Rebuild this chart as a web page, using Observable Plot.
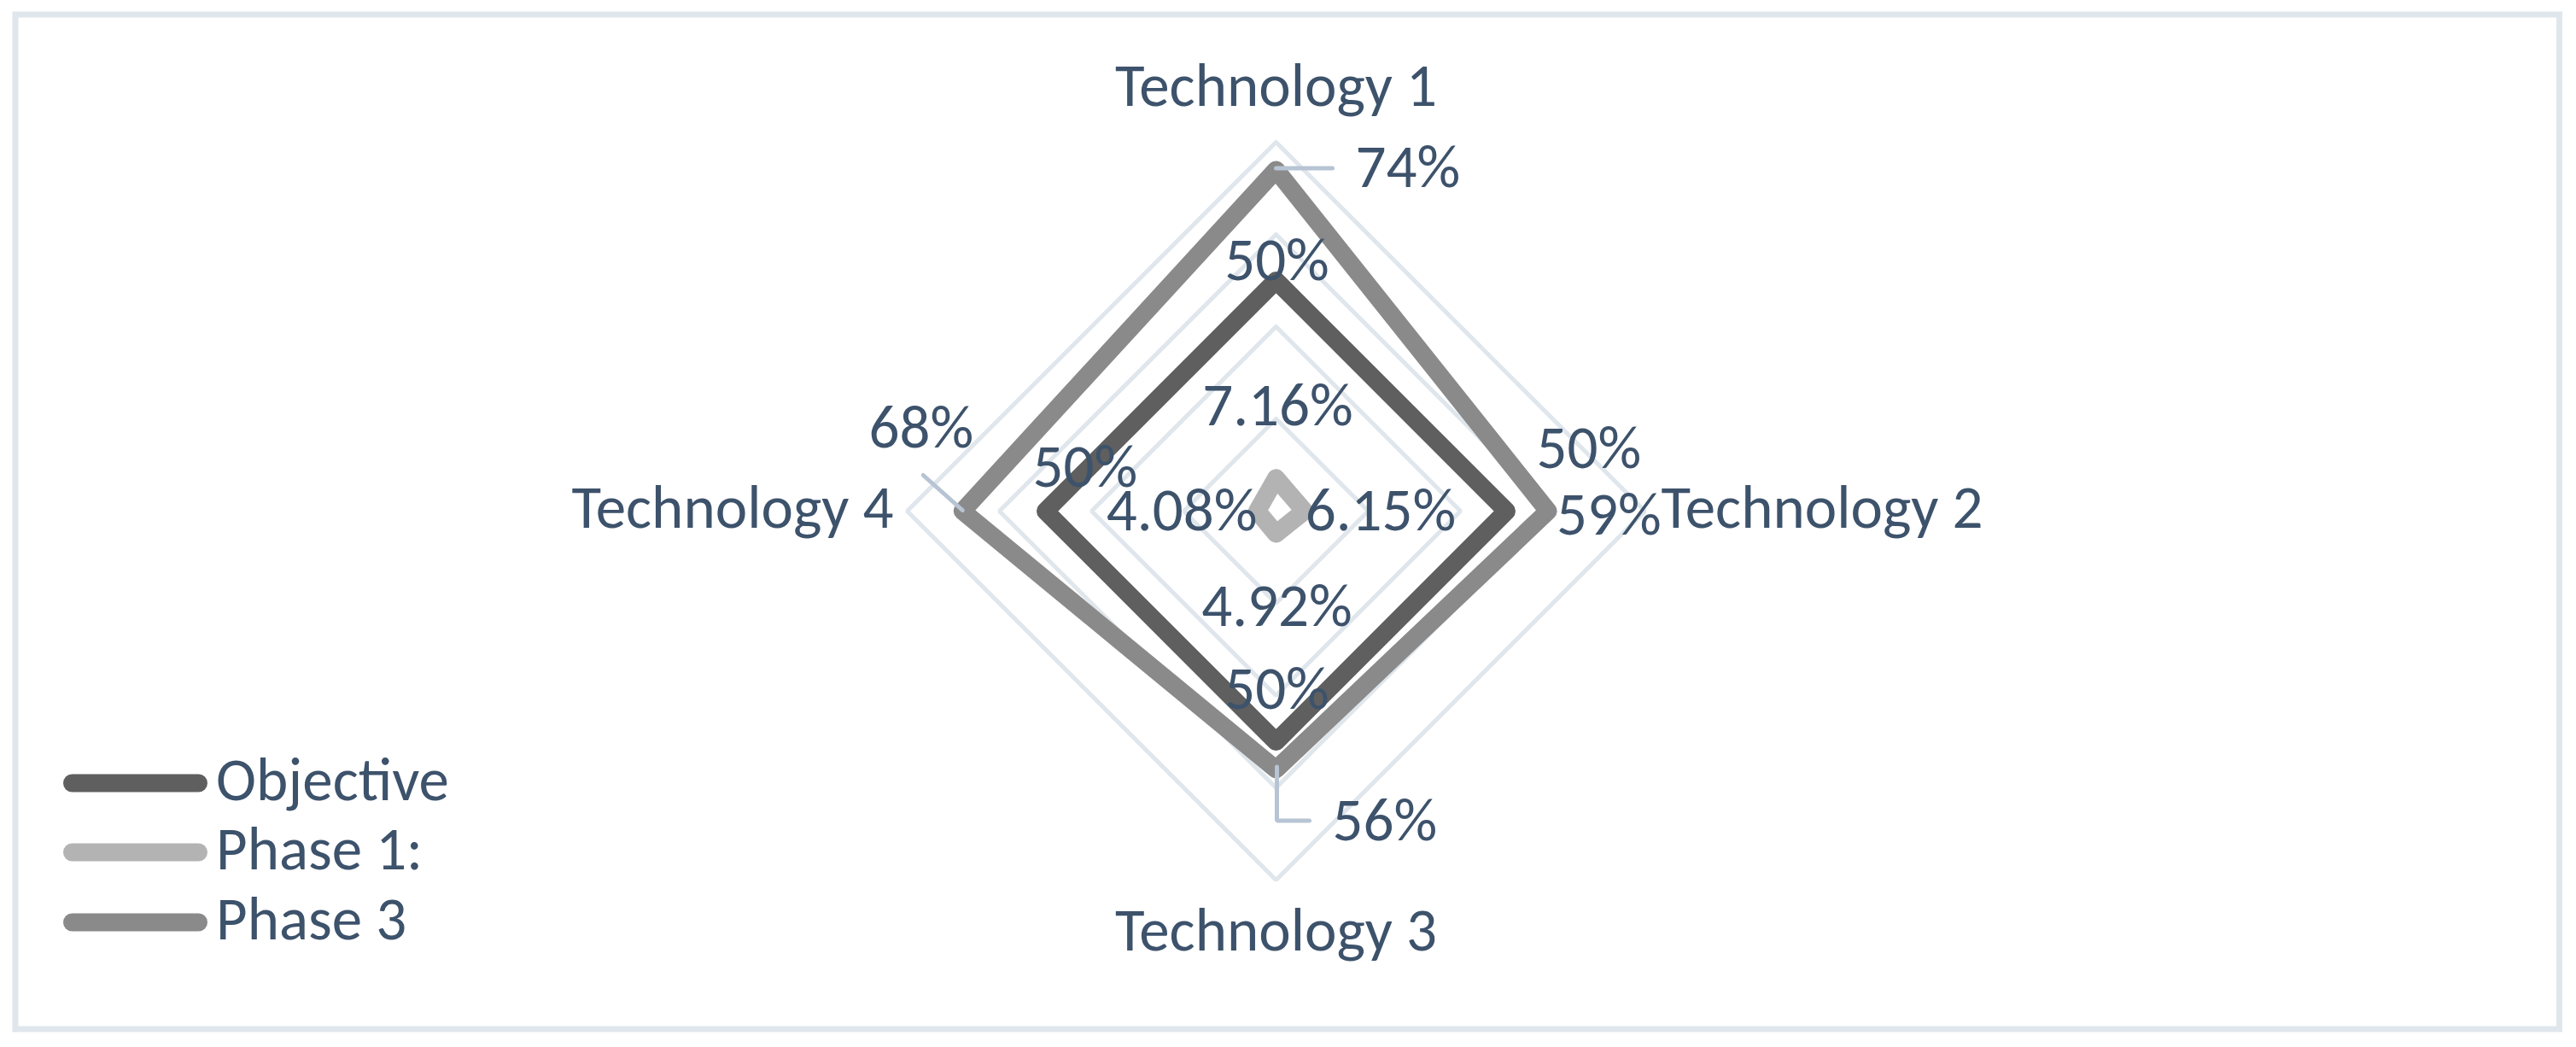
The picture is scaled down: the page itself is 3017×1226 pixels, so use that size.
<!DOCTYPE html>
<html><head><meta charset="utf-8">
<script src="https://cdn.jsdelivr.net/npm/d3@7"></script>
<script src="https://cdn.jsdelivr.net/npm/@observablehq/plot@0.6"></script>
<style>
html,body{margin:0;padding:0;background:#fff;overflow:hidden}
#wrap{position:relative;width:3017px;height:1226px}
#wrap svg{display:block}
#legend{position:absolute;left:0;top:0;pointer-events:none}
</style></head><body><div id="wrap"></div>
<script>
// ---- data ----
const categories = ["Technology 1", "Technology 2", "Technology 3", "Technology 4"];
const seriesNames = ["Objective", "Phase 1:", "Phase 3"];
const objective = [0.50, 0.50, 0.50, 0.50];
const phase1 = [0.0716, 0.0615, 0.0492, 0.0408];
const phase3 = [0.74, 0.59, 0.56, 0.68];
const gridLevels = [0.2, 0.4, 0.6, 0.8];
const labelFormats = [".0%", ".2%", ".0%"];

// ---- layout / style ----
const W = 3017, H = 1226, cx = 1494, cy = 598, R = 432;
const rMax = d3.max(gridLevels);
const k = R / rMax; // px per unit
const FS = 71;
const FONT = "Carlito, Calibri, Lato, sans-serif";
const TEXT = "#3d526b";
const GRID = "#dfe6ec";
const LEADER = "#b7c4d3";
const colors = ["#5f5f5f", "#b3b3b3", "#8a8a8a"];
const values = [objective, phase1, phase3];

const polar = (i, r) => {
  const a = i * 2 * Math.PI / categories.length;
  return [r * Math.sin(a), r * Math.cos(a)];
};
const off = ([x, y], dxPx, dyPx) => ({x: x + dxPx / k, y: y - dyPx / k});

// rings
const rings = gridLevels.flatMap(level =>
  d3.range(categories.length + 1).map(i => {
    const [x, y] = polar(i % categories.length, level);
    return {level, x, y};
  }));

// series polygons
const seriesPts = seriesNames.flatMap((s, si) =>
  d3.range(categories.length + 1).map(i => {
    const j = i % categories.length;
    const [x, y] = polar(j, values[si][j]);
    return {series: s, x, y};
  }));

// data label placement (pixel offsets from the data point: dx, baseline dy, anchor)
const labelPlace = [
  [[1, -1, "middle"], [35, -51, "start"], [1, -39, "middle"], [-15, -29, "start"]],
  [[2, -62, "middle"], [1, 22, "start"], [1, 108, "middle"], [0, 22, "end"]],
  [[93, 20, "start"], [10, 27, "start"], [66, 83, "start"], [13, -75, "end"]]
];
const dataLabels = seriesNames.flatMap((s, si) =>
  categories.map((c, j) => {
    const [dx, dy, anchor] = labelPlace[si][j];
    return {...off(polar(j, values[si][j]), dx, dy), anchor,
      text: d3.format(labelFormats[si])(values[si][j])};
  }));

// leader lines for Phase 3 labels
const leaderPath = [
  [[0, -2], [66, -2]],
  null,
  [[1, -3], [1, 60], [39, 60]],
  [[0, -1], [-46, -42]]
];
const leaders = leaderPath.flatMap((path, j) => path ? path.map(([dx, dy]) =>
  ({id: j, ...off(polar(j, phase3[j]), dx, dy)})) : []);

// category labels
const catPlace = [[0, -43, "middle"], [19, 19, "start"], [0, 82, "middle"], [-16, 19, "end"]];
const catLabels = categories.map((c, j) => {
  const [dx, dy, anchor] = catPlace[j];
  return {...off(polar(j, rMax), dx, dy), anchor, text: c};
});

const textMarks = (data) => ["start", "middle", "end"].map(a =>
  Plot.text(data.filter(d => d.anchor === a), {
    x: "x", y: "y", text: "text", textAnchor: a, lineAnchor: "bottom",
    fontSize: FS, fill: TEXT, fontFamily: FONT
  }));

const chart = Plot.plot({
  width: W, height: H,
  margin: 0,
  x: {domain: [-cx / k, (W - cx) / k], range: [0, W], axis: null},
  y: {domain: [-(H - cy) / k, cy / k], range: [H, 0], axis: null},
  color: {domain: seriesNames, range: colors},
  style: {fontFamily: FONT, background: "#fff"},
  marks: [
    Plot.frame({stroke: GRID, strokeWidth: 7, insetLeft: 17.5, insetTop: 16.5, insetRight: 20, insetBottom: 21.5}),
    Plot.line(rings, {x: "x", y: "y", z: "level", stroke: GRID, strokeWidth: 5, strokeLinejoin: "miter"}),
    Plot.line(seriesPts, {x: "x", y: "y", z: "series", stroke: "series", strokeWidth: 21,
      strokeLinejoin: "round", strokeLinecap: "round"}),
    Plot.line(leaders, {x: "x", y: "y", z: "id", stroke: LEADER, strokeWidth: 5, strokeLinejoin: "miter"}),
    ...textMarks(dataLabels),
    ...textMarks(catLabels)
  ]
});
const wrap = document.getElementById("wrap");
wrap.appendChild(chart);

// legend overlay (lower-left, inside chart area)
const leg = d3.select(wrap).append("svg").attr("id", "legend")
  .attr("width", 700).attr("height", H);
const legY = [917, 998, 1080];
seriesNames.forEach((s, i) => {
  leg.append("line").attr("x1", 84.5).attr("x2", 232.5).attr("y1", legY[i]).attr("y2", legY[i])
    .attr("stroke", colors[i]).attr("stroke-width", 21).attr("stroke-linecap", "round");
  leg.append("text").attr("x", 253).attr("y", legY[i] + 20)
    .attr("font-family", FONT).attr("font-size", FS).attr("fill", TEXT).text(s);
});
</script></body></html>
